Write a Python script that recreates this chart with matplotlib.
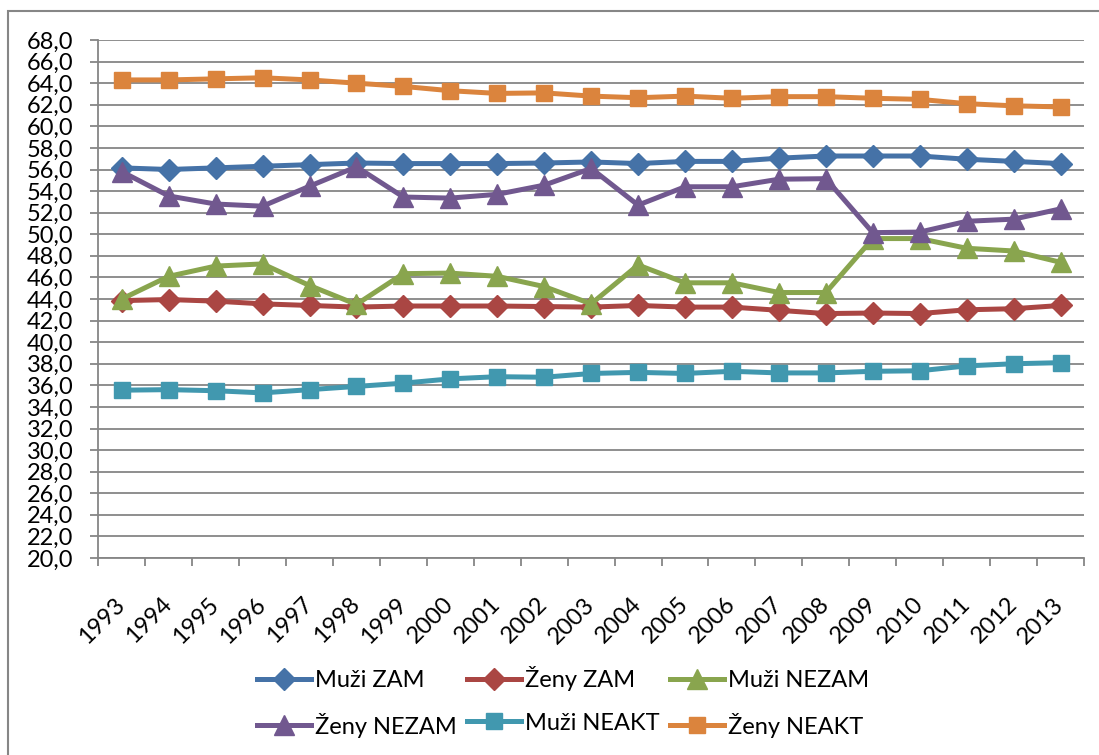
import matplotlib.pyplot as plt
import matplotlib.transforms as mtransforms
import numpy as np
from matplotlib.patches import Rectangle

plt.rcParams['font.family'] = ['Lato', 'DejaVu Sans']

years = [str(y) for y in range(1993, 2014)]

muzi_zam = [56.15, 56.0, 56.15, 56.3, 56.45, 56.6, 56.55, 56.55, 56.55, 56.6, 56.7,
            56.55, 56.75, 56.75, 57.05, 57.25, 57.25, 57.25, 56.95, 56.75, 56.55]
zeny_zam = [43.85, 43.95, 43.8, 43.55, 43.4, 43.25, 43.35, 43.35, 43.35, 43.3, 43.25,
            43.4, 43.25, 43.25, 42.95, 42.65, 42.7, 42.65, 43.0, 43.1, 43.4]
muzi_nezam = [44.0, 46.1, 47.05, 47.25, 45.25, 43.5, 46.35, 46.4, 46.1, 45.15, 43.55,
              47.15, 45.5, 45.5, 44.6, 44.6, 49.6, 49.6, 48.7, 48.45, 47.4]
zeny_nezam = [55.8, 53.55, 52.8, 52.6, 54.45, 56.25, 53.45, 53.35, 53.7, 54.55, 56.1,
              52.7, 54.4, 54.4, 55.1, 55.15, 50.15, 50.2, 51.2, 51.4, 52.35]
muzi_neakt = [35.55, 35.6, 35.5, 35.3, 35.6, 35.9, 36.2, 36.6, 36.8, 36.75, 37.1,
              37.2, 37.1, 37.3, 37.15, 37.15, 37.3, 37.35, 37.8, 38.0, 38.1]
zeny_neakt = [64.3, 64.3, 64.4, 64.5, 64.3, 64.0, 63.7, 63.3, 63.05, 63.1, 62.8,
              62.65, 62.8, 62.6, 62.75, 62.75, 62.6, 62.5, 62.1, 61.9, 61.8]

series = [
    ("Muži ZAM", muzi_zam, "#4572A7", "D", 11.5),
    ("Ženy ZAM", zeny_zam, "#AA4643", "D", 11.5),
    ("Muži NEZAM", muzi_nezam, "#89A54E", "^", 14),
    ("Ženy NEZAM", zeny_nezam, "#71588F", "^", 14),
    ("Muži NEAKT", muzi_neakt, "#4198AF", "s", 12),
    ("Ženy NEAKT", zeny_neakt, "#DB843D", "s", 12),
]

yticks = np.arange(20, 69, 2)
ytick_labels = [f"{v:.1f}".replace(".", ",") for v in yticks]

fig = plt.figure(figsize=(10.99, 7.55), dpi=100)
ax = fig.add_axes([98.3 / 1099, 1 - 558 / 755, (1084 - 98.3) / 1099, (558 - 40) / 755])

# outer chart border
fig.patches.append(Rectangle((8 / 1099, -0.1), 1.2, 1 - 11 / 755 + 0.1, transform=fig.transFigure,
                             fill=False, edgecolor="#868686", linewidth=1.5))

x = np.arange(len(years))
handles = []
for name, vals, col, mk, ms in series:
    h, = ax.plot(x, vals, color=col, linewidth=3.6, marker=mk, markersize=ms,
                 markeredgecolor=col, markeredgewidth=1, label=name)
    handles.append(h)

ax.set_xlim(-0.5, len(years) - 0.5)
ax.set_ylim(20, 68)
ax.set_yticks(yticks)
ax.set_yticklabels(ytick_labels)
ax.set_xticks(np.arange(len(years) + 1) - 0.5, minor=False)
ax.set_xticklabels([])
ax.set_xticks(x, minor=True)
ax.set_xticklabels(years, minor=True, rotation=45, ha="right", va="center",
                   rotation_mode="anchor")

# nudge year labels a little to the right
offset = mtransforms.ScaledTranslation(4 / 100, 0, fig.dpi_scale_trans)
for lbl in ax.get_xticklabels(minor=True):
    lbl.set_transform(lbl.get_transform() + offset)

ax.grid(axis="y", color="#868686", linewidth=1.3)
ax.set_axisbelow(True)
for s in ["top", "right"]:
    ax.spines[s].set_visible(False)
for s in ["left", "bottom"]:
    ax.spines[s].set_color("#868686")
    ax.spines[s].set_linewidth(1.3)

ax.tick_params(axis="y", which="major", direction="out", length=6, width=1.3,
               color="#868686", labelsize=17, pad=12)
ax.tick_params(axis="x", which="major", direction="out", length=6, width=1.3,
               color="#868686")
ax.tick_params(axis="x", which="minor", length=0, labelsize=17, pad=31)

order = [0, 3, 1, 4, 2, 5]
fig.legend([handles[i] for i in order], [series[i][0] for i in order],
           loc="center", bbox_to_anchor=(563 / 1099, 1 - 702 / 755), ncol=3,
           frameon=False, fontsize=17, handlelength=2.3, handletextpad=0.15,
           columnspacing=0.45, labelspacing=0.9)

plt.savefig("out.png", dpi=100)
